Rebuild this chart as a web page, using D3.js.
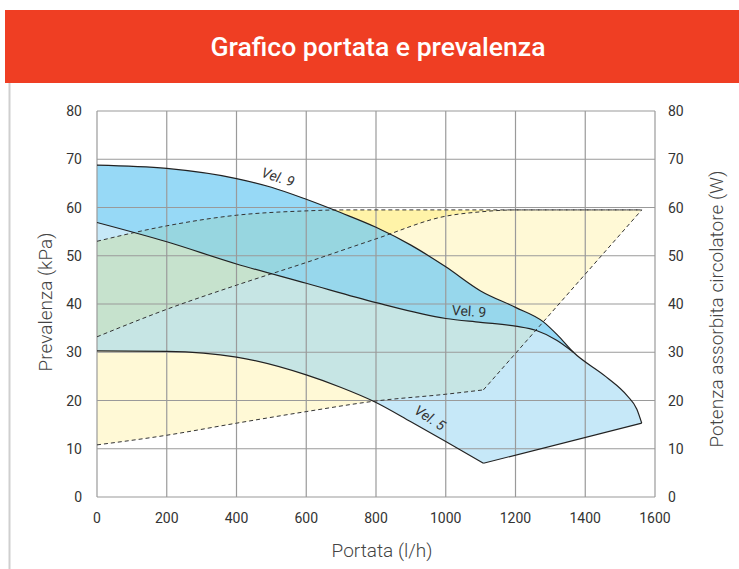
<!DOCTYPE html>
<html>
<head>
<meta charset="utf-8">
<script src="https://cdn.jsdelivr.net/npm/d3@7"></script>
<style>
    body { margin: 0; background: #fff; }
    svg { display: block; font-family: Roboto, "DejaVu Sans", sans-serif; }
</style>
</head>
<body>
<svg id="chart" width="739" height="569"></svg>
<script>
// tick values
var portataTicks = [0, 200, 400, 600, 800, 1000, 1200, 1400, 1600];
var prevalenzaTicks = [0, 10, 20, 30, 40, 50, 60, 70, 80];

// head curves [portata l/h, prevalenza kPa]
var vel9Max = [[0, 68.8], [200, 68.1], [400, 66.0], [500, 64.2], [600, 61.7], [700, 58.9], [800, 55.9],
    [900, 52.2], [1000, 47.7], [1100, 42.7], [1200, 39.3], [1280, 36.3], [1320, 33.6], [1366, 30.0],
    [1460, 24.9], [1520, 21.0], [1548, 18.2], [1562, 15.3]];
var vel9 = [[0, 56.9], [200, 52.9], [400, 48.3], [600, 44.3], [800, 40.3], [1000, 37.0], [1100, 36.2],
    [1200, 35.4], [1260, 34.5], [1318, 32.5], [1366, 30.0]];
var vel5 = [[0, 30.3], [200, 30.2], [400, 29.0], [600, 25.3], [700, 22.7], [800, 19.6], [900, 15.6],
    [1000, 11.5], [1108, 7.0]];
var vel5Limit = [[1108, 7.0], [1562, 15.3]];

// power curves [portata l/h, potenza W]
var potenzaMin = [[0, 10.8], [200, 12.8], [400, 15.3], [600, 17.7], [800, 19.9], [1000, 21.3], [1108, 22.2]];
var potenzaMinLimit = [[1108, 22.2], [1562, 59.5]];
var potenzaMed = [[0, 33.2], [200, 38.9], [400, 43.9], [600, 48.6], [800, 53.5], [1000, 58.2],
    [1100, 59.1], [1200, 59.5], [1562, 59.5]];
var potenzaMax = [[0, 53.0], [200, 56.2], [400, 58.4], [600, 59.3], [700, 59.5], [1000, 59.5],
    [1300, 59.5], [1562, 59.5]];

var svg = d3.select('#chart'),
    margin = {left: 97, right: 655, top: 111, bottom: 497},
    x = d3.scaleLinear().domain([0, 1600]).range([margin.left, margin.right]),
    y = d3.scaleLinear().domain([0, 80]).range([margin.bottom, margin.top]);

var smooth = d3.line().x(function (d) { return x(d[0]); }).y(function (d) { return y(d[1]); }).curve(d3.curveMonotoneX),
    straight = d3.line().x(function (d) { return x(d[0]); }).y(function (d) { return y(d[1]); });

// join several path pieces into one outline
function joinPaths(parts) {
    return parts.map(function (p, i) {
        return i === 0 ? p : p.replace(/^M/, 'L');
    }).join('') + 'Z';
}

function rev(arr) { return arr.slice().reverse(); }

// header
svg.append('rect').attr('x', 5).attr('y', 10).attr('width', 734).attr('height', 73).attr('fill', '#ef3e23');
svg.append('text').attr('x', 378).attr('y', 56).attr('text-anchor', 'middle')
    .attr('fill', '#fff').style('font-size', '25px').style('font-weight', 500)
    .attr('textLength', 335).attr('lengthAdjust', 'spacingAndGlyphs')
    .text('Grafico portata e prevalenza');
svg.append('line').attr('x1', 9.5).attr('x2', 9.5).attr('y1', 83).attr('y2', 569)
    .attr('stroke', '#cfcfcf').attr('stroke-width', 2);

var defs = svg.append('defs');
defs.append('clipPath').attr('id', 'aboveVel9').append('path')
    .attr('d', d3.area().x(function (d) { return x(d[0]); }).y0(y(80)).y1(function (d) { return y(d[1]); })
        .curve(d3.curveMonotoneX)(vel9));

var fills = svg.append('g');

// yellow power bands
fills.append('path')
    .attr('d', joinPaths([smooth(potenzaMin), straight(potenzaMinLimit), smooth(rev(potenzaMed))]))
    .attr('fill', '#fff9d6');
fills.append('path')
    .attr('d', joinPaths([smooth(potenzaMed), smooth(rev(potenzaMax))]))
    .attr('fill', '#fff3a8');

// blue working field
var fieldPath = joinPaths([smooth(vel9Max), straight(rev(vel5Limit)), smooth(rev(vel5))]);
fills.append('path').attr('d', fieldPath).attr('fill', '#8ed2f2').attr('fill-opacity', 0.5);
fills.append('path').attr('d', fieldPath).attr('clip-path', 'url(#aboveVel9)')
    .attr('fill', '#68caf4').attr('fill-opacity', 0.5);

// grid
var grid = svg.append('g').attr('stroke', '#9a9a9a').attr('stroke-width', 1.2);
grid.selectAll('line.v').data(portataTicks).enter().append('line')
    .attr('x1', function (d) { return x(d); }).attr('x2', function (d) { return x(d); })
    .attr('y1', y(0)).attr('y2', y(80));
grid.selectAll('line.h').data(prevalenzaTicks).enter().append('line')
    .attr('y1', function (d) { return y(d); }).attr('y2', function (d) { return y(d); })
    .attr('x1', x(0)).attr('x2', x(1600));

// curves
var curves = svg.append('g').attr('fill', 'none');
[potenzaMax, potenzaMed, potenzaMin].forEach(function (c) {
    curves.append('path').attr('d', smooth(c)).attr('stroke', '#333')
        .attr('stroke-width', 1).attr('stroke-dasharray', '4,3');
});
curves.append('path').attr('d', straight(potenzaMinLimit)).attr('stroke', '#333')
    .attr('stroke-width', 1).attr('stroke-dasharray', '4,3');
[vel9Max, vel9, vel5].forEach(function (c) {
    curves.append('path').attr('d', smooth(c)).attr('stroke', '#222').attr('stroke-width', 1.2);
});
curves.append('path').attr('d', straight(vel5Limit)).attr('stroke', '#222').attr('stroke-width', 1.2);

// curve labels
var labels = [
    {text: 'Vel. 9', px: 519, pv: 66.3, angle: 18, italic: true},
    {text: 'Vel. 9', px: 1067, pv: 38.5, angle: 4, italic: false},
    {text: 'Vel. 5', px: 955, pv: 16.4, angle: 33, italic: true}
];
svg.selectAll('text.vel').data(labels).enter().append('text')
    .attr('class', 'vel')
    .attr('transform', function (d) { return 'translate(' + x(d.px) + ',' + y(d.pv) + ') rotate(' + d.angle + ')'; })
    .attr('text-anchor', 'middle').attr('dy', '0.35em')
    .attr('fill', '#333').style('font-size', '14px')
    .style('font-style', function (d) { return d.italic ? 'italic' : 'normal'; })
    .text(function (d) { return d.text; });

// axis tick labels
var ticks = svg.append('g').attr('fill', '#333').style('font-size', '14px');
ticks.selectAll('text.yl').data(prevalenzaTicks).enter().append('text')
    .attr('x', 82).attr('y', function (d) { return y(d) + 5; }).attr('text-anchor', 'end')
    .text(function (d) { return d; });
ticks.selectAll('text.yr').data(prevalenzaTicks).enter().append('text')
    .attr('x', 668).attr('y', function (d) { return y(d) + 5; }).attr('text-anchor', 'start')
    .text(function (d) { return d; });
ticks.selectAll('text.xl').data(portataTicks).enter().append('text')
    .attr('x', function (d) { return x(d); }).attr('y', 523).attr('text-anchor', 'middle')
    .text(function (d) { return d; });

// axis titles
var titles = svg.append('g').attr('fill', '#444').style('font-size', '19px').style('font-weight', 300);
titles.append('text').attr('x', 382).attr('y', 557).attr('text-anchor', 'middle').text('Portata (l/h)');
titles.append('text').attr('transform', 'translate(52,302) rotate(-90)').attr('text-anchor', 'middle')
    .text('Prevalenza (kPa)');
titles.append('text').attr('transform', 'translate(723,309) rotate(-90)').attr('text-anchor', 'middle')
    .text('Potenza assorbita circolatore (W)');
</script>
</body>
</html>
